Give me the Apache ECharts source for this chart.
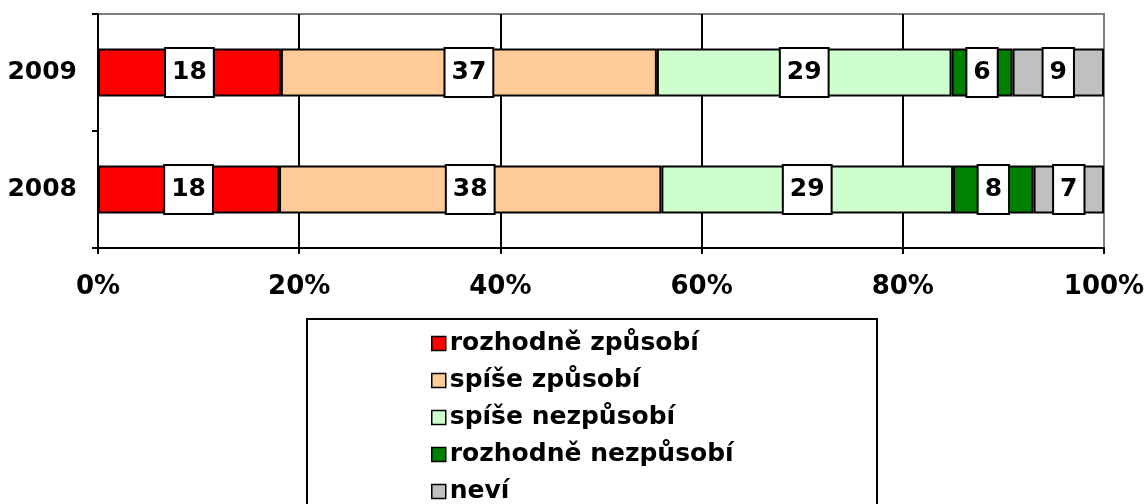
<!DOCTYPE html>
<html>
<head>
<meta charset="utf-8">
<script src="https://cdn.jsdelivr.net/npm/echarts@6/dist/echarts.min.js"></script>
<style>
  html, body { margin: 0; padding: 0; background: #fff; }
  #chart { width: 1145px; height: 504px; }
</style>
</head>
<body>
<div id="chart"></div>
<script>
'use strict';

// Data (bottom-to-top order of the category axis)
const years = ['2008', '2009'];
const seriesNames = ['rozhodně způsobí', 'spíše způsobí', 'spíše nezpůsobí', 'rozhodně nezpůsobí', 'neví'];
const seriesColors = ['#FF0000', '#FFCC99', '#CCFFCC', '#008000', '#C0C0C0'];
// values per series, index = year
const rozhodneZpusobi = [18, 18];
const spiseZpusobi = [38, 37];
const spiseNezpusobi = [29, 29];
const rozhodneNezpusobi = [8, 6];
const nevi = [7, 9];
const xTicks = [0, 20, 40, 60, 80, 100];

(function () {
  const FONT = '"DejaVu Sans", Verdana, sans-serif';
  const raw = [rozhodneZpusobi, spiseZpusobi, spiseNezpusobi, rozhodneNezpusobi, nevi];
  const totals = years.map((_, i) => raw.reduce((s, arr) => s + arr[i], 0));

  const series = raw.map((arr, k) => ({
    name: seriesNames[k],
    type: 'bar',
    stack: 'all',
    barWidth: 48,
    itemStyle: { color: seriesColors[k], borderColor: '#000', borderWidth: 2 },
    label: {
      show: true,
      position: 'inside',
      formatter: (p) => String(arr[p.dataIndex]),
      color: '#000',
      fontFamily: FONT,
      fontWeight: 'bold',
      fontSize: 25,
      lineHeight: 24,
      backgroundColor: '#fff',
      borderColor: '#000',
      borderWidth: 2,
      padding: [12, 6, 11, 6]
    },
    emphasis: { disabled: true },
    data: arr.map((v, i) => v / totals[i] * 100)
  }));

  const chart = echarts.init(document.getElementById('chart'));
  chart.setOption({
    animation: false,
    grid: {
      left: 98, right: 41, top: 14, bottom: 256,
      outerBoundsMode: 'none',
      containLabel: false,
      show: true, borderColor: '#808080', borderWidth: 2, backgroundColor: 'transparent'
    },
    xAxis: {
      type: 'value',
      min: xTicks[0],
      max: xTicks[xTicks.length - 1],
      interval: 20,
      axisLine: { show: true, lineStyle: { color: '#000', width: 2 } },
      axisTick: { show: true, length: 6, lineStyle: { color: '#000', width: 2 } },
      splitLine: {
        show: true,
        lineStyle: { color: ['#000', '#000', '#000', '#000', '#000', '#808080'], width: 2 }
      },
      axisLabel: {
        formatter: '{value}%',
        color: '#000', fontFamily: FONT, fontWeight: 'bold', fontSize: 26, margin: 26
      }
    },
    yAxis: {
      type: 'category',
      data: years,
      axisLine: { show: true, lineStyle: { color: '#000', width: 2 } },
      axisTick: { show: true, length: 6, lineStyle: { color: '#000', width: 2 } },
      axisLabel: { color: '#000', fontFamily: FONT, fontWeight: 'bold', fontSize: 25, margin: 21 }
    },
    legend: {
      orient: 'vertical',
      left: 426,
      top: 326,
      height: 200,
      itemWidth: 14,
      itemHeight: 14,
      itemGap: 12,
      icon: 'rect',
      itemStyle: { borderColor: '#000', borderWidth: 1.5 },
      textStyle: { color: '#000', fontFamily: FONT, fontWeight: 'bold', fontSize: 25, lineHeight: 25, padding: [0, 0, 0, -1] },
      data: seriesNames,
      selectedMode: false
    },
    graphic: [{
      type: 'rect',
      shape: { x: 307, y: 319, width: 570, height: 200 },
      style: { fill: 'none', stroke: '#000', lineWidth: 2 },
      silent: true
    }],
    series: series
  });
})();
</script>
</body>
</html>
